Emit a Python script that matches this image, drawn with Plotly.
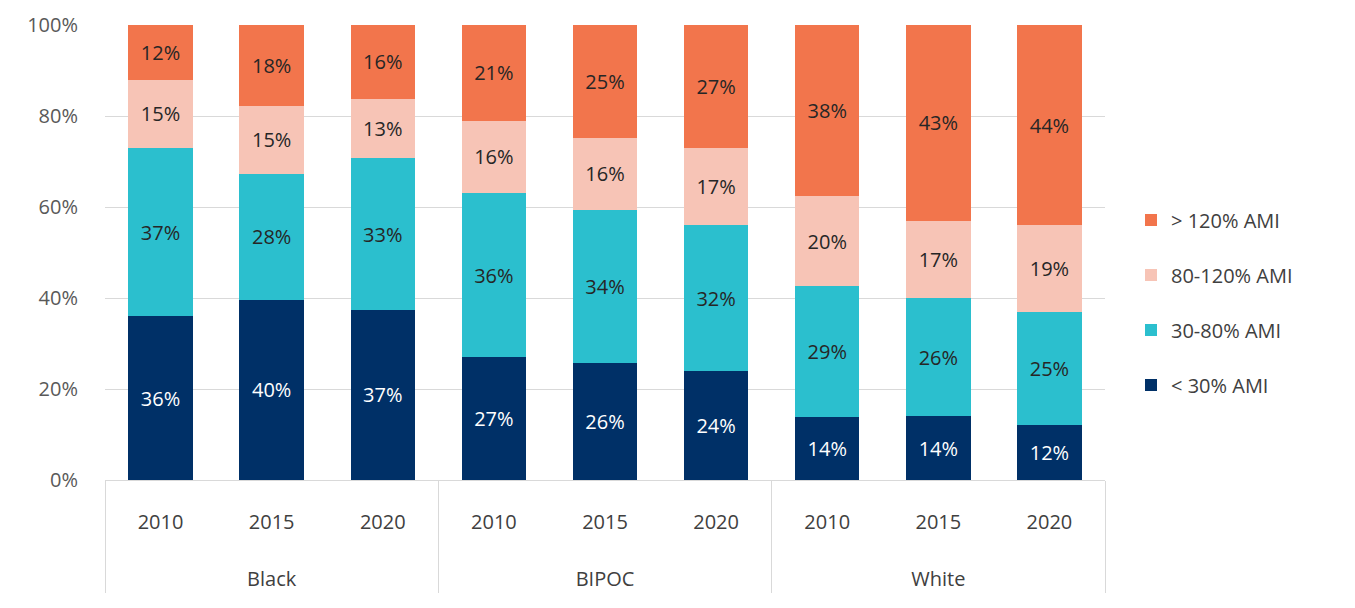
import plotly.graph_objects as go

groups = ["Black", "Black", "Black", "BIPOC", "BIPOC", "BIPOC", "White", "White", "White"]
years = ["2010", "2015", "2020"] * 3

series_names = ["< 30% AMI", "30-80% AMI", "80-120% AMI", "> 120% AMI"]
lt30 = [36, 40, 37, 27, 26, 24, 14, 14, 12]
r30_80 = [37, 28, 33, 36, 34, 32, 29, 26, 25]
r80_120 = [15, 15, 13, 16, 16, 17, 20, 17, 19]
gt120 = [12, 18, 16, 21, 25, 27, 38, 43, 44]
series_values = [lt30, r30_80, r80_120, gt120]

colors = ["#003067", "#2bbfce", "#f7c4b6", "#f2754c"]
text_colors = ["white", "#262626", "#262626", "#262626"]

FONT = "Open Sans, Noto Sans, DejaVu Sans, sans-serif"

group_labels = ["<br><br>" + g for g in groups]

fig = go.Figure()
for i, (name, vals) in enumerate(zip(series_names, series_values)):
    fig.add_trace(go.Bar(
        x=[group_labels, years], y=vals, name=name,
        marker=dict(color=colors[i], line=dict(width=0)),
        text=[f"{v}%" for v in vals], texttemplate="%{text}",
        textposition="inside", insidetextanchor="middle",
        textfont=dict(color=text_colors[i], size=20, family=FONT),
        legendgroup=name, legendrank=10 - i,
    ))

fig.update_layout(
    barmode="stack", barnorm="percent", bargap=0.42,
    width=1355, height=608,
    margin=dict(l=97, r=258, t=17, b=136),
    paper_bgcolor="white", plot_bgcolor="white",
    font=dict(family=FONT, size=20, color="#404040"),
    legend=dict(
        traceorder="grouped", tracegroupgap=26,
        x=1.026, y=0.39, yanchor="middle", xanchor="left",
        font=dict(size=20, color="#404040"),
        itemwidth=30,
    ),
    showlegend=True,
)
fig.update_yaxes(
    range=[0, 100], dtick=20, ticksuffix="%",
    showgrid=True, gridcolor="#d9d9d9", gridwidth=1,
    zeroline=False, showline=False, automargin=False,
    tickfont=dict(size=20, color="#595959"),
    ticklabelstandoff=26,
)
fig.update_xaxes(
    showline=True, linecolor="#d9d9d9", linewidth=1,
    showdividers=True, dividercolor="#d9d9d9", dividerwidth=1,
    tickfont=dict(size=20, color="#404040"),
    ticks="", ticklabelstandoff=24, automargin=False,
)

fig.write_html("out.html")
